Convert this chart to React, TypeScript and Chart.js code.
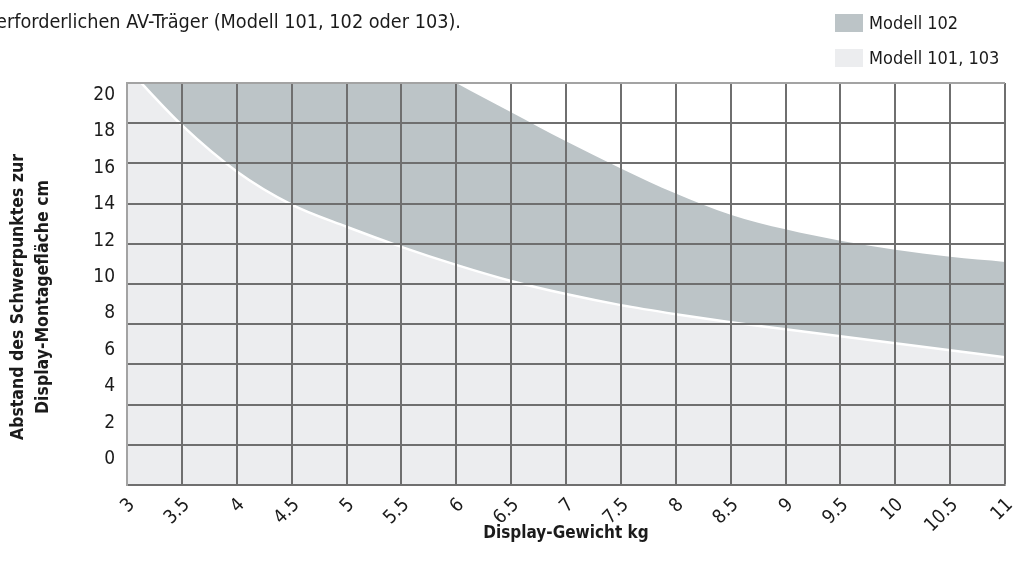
import React, { useEffect, useRef } from "react";
import { Chart, registerables } from "chart.js";

Chart.register(...registerables);

// ---- data ----
const weightsKg = [3, 3.13, 3.5, 4, 4.5, 5, 5.5, 6, 6.5, 7, 7.5, 8, 8.5, 9, 9.5, 10, 10.5, 11];
const modell101_103 = [20.8, 20, 17.9, 15.6, 13.95, 12.85, 11.85, 10.95, 10.15, 9.5, 8.95, 8.5, 8.1, 7.75, 7.4, 7.05, 6.7, 6.35];
const modell102 = [31, 30.5, 29, 27, 25, 23.4, 21.6, 20, 18.55, 17.1, 15.75, 14.5, 13.45, 12.72, 12.15, 11.7, 11.35, 11.1];
const xTickValues = [3, 3.5, 4, 4.5, 5, 5.5, 6, 6.5, 7, 7.5, 8, 8.5, 9, 9.5, 10, 10.5, 11];
const xTickLabels = ["3", "3.5", "4", "4.5", "5", "5.5", "6", "6.5", "7", "7.5", "8", "8.5", "9", "9.5", "10", "10.5", "11"];
const yTickValues = [0, 2, 4, 6, 8, 10, 12, 14, 16, 18, 20];
const yTickLabels = ["0", "2", "4", "6", "8", "10", "12", "14", "16", "18", "20"];
const seriesLabels = ["Modell 101, 103", "Modell 102"];
const captionText = "erforderlichen AV-Träger (Modell 101, 102 oder 103).";
const xTitle = "Display-Gewicht kg";
const yTitle = ["Abstand des Schwerpunktes zur", "Display-Montagefläche cm"];

const FONT = "'Liberation Sans Narrow', 'DejaVu Sans Condensed', 'Roboto', sans-serif";
const TEXT = "#1b1b1b";
const GRID = "#6f6f6f";
const EDGE = "#a3a3a3";
const LIGHT = "#ecedef";
const GRAY = "#bcc4c7";

const extrasPlugin = {
  id: "extras",
  afterDraw(chart: any) {
    const ctx = chart.ctx;
    ctx.save();
    ctx.fillStyle = TEXT;
    ctx.font = `19.7px ${FONT}`;
    ctx.textAlign = "left";
    ctx.textBaseline = "alphabetic";
    ctx.fillText(captionText, -4, 28);
    // legend (Modell 102 first, then Modell 101, 103)
    const items = [
      { label: seriesLabels[1], color: GRAY },
      { label: seriesLabels[0], color: LIGHT },
    ];
    ctx.font = `18px ${FONT}`;
    items.forEach((it, i) => {
      const y = 14 + i * 35;
      ctx.fillStyle = it.color;
      ctx.fillRect(835, y, 28, 18);
      ctx.fillStyle = TEXT;
      ctx.textBaseline = "middle";
      ctx.fillText(it.label, 869, y + 10);
    });
    // y axis title (two lines, rotated)
    ctx.save();
    ctx.translate(31, 297);
    ctx.rotate(-Math.PI / 2);
    ctx.textAlign = "center";
    ctx.textBaseline = "middle";
    ctx.font = `bold 17.5px ${FONT}`;
    ctx.fillText(yTitle[0], 0, -12.5);
    ctx.fillText(yTitle[1], 0, 12.5);
    ctx.restore();
    ctx.restore();
  },
};

export default function App() {
  const ref = useRef<HTMLCanvasElement | null>(null);
  useEffect(() => {
    if (!ref.current) return;
    const chart = new Chart(ref.current, {
      type: "line",
      data: {
        labels: weightsKg,
        datasets: [
          {
            label: seriesLabels[0],
            data: weightsKg.map((x, i) => ({ x, y: modell101_103[i] })),
            backgroundColor: LIGHT,
            borderColor: "#ffffff",
            borderWidth: 2.5,
            pointRadius: 0,
            fill: "start",
            cubicInterpolationMode: "monotone",
          },
          {
            label: seriesLabels[1],
            data: weightsKg.map((x, i) => ({ x, y: modell102[i] })),
            backgroundColor: GRAY,
            borderWidth: 0,
            pointRadius: 0,
            fill: "-1",
            cubicInterpolationMode: "monotone",
          },
        ],
      },
      options: {
        animation: false,
        responsive: true,
        maintainAspectRatio: false,
        layout: { padding: { top: 83, right: 11, left: 0, bottom: 0 } },
        plugins: {
          legend: { display: false },
          tooltip: { enabled: false },
          title: { display: false },
        },
        scales: {
          x: {
            type: "linear",
            min: 3,
            max: 11,
            afterBuildTicks: (s: any) => {
              s.ticks = xTickValues.map((v) => ({ value: v }));
            },
            afterFit: (s: any) => {
              s.height = 83;
              s.paddingLeft = 0;
              s.paddingRight = 0;
            },
            grid: {
              color: (c: any) => (c.tick && c.tick.value === 3 ? EDGE : GRID),
              lineWidth: 2,
              drawTicks: false,
              z: 1,
            },
            border: { display: true, color: EDGE, width: 2, z: 1 },
            ticks: {
              autoSkip: false,
              minRotation: 45,
              maxRotation: 45,
              padding: 9,
              labelOffset: 5,
              color: TEXT,
              font: { family: FONT, size: 19 },
              callback: (v: any) => {
                const i = xTickValues.indexOf(Number(v));
                return i >= 0 ? xTickLabels[i] : "";
              },
            },
            title: {
              display: true,
              text: xTitle,
              color: TEXT,
              font: { family: FONT, size: 17, weight: "bold" },
              padding: { top: 0, bottom: 24 },
            },
          },
          y: {
            type: "linear",
            min: 0,
            max: 20,
            weight: 0,
            afterBuildTicks: (s: any) => {
              s.ticks = yTickValues.map((v) => ({ value: v }));
            },
            afterFit: (s: any) => {
              s.width = 0;
            },
            grid: {
              color: (c: any) => (c.tick && c.tick.value === 20 ? EDGE : GRID),
              lineWidth: 2,
              drawTicks: false,
              z: 1,
            },
            border: { display: true, color: EDGE, width: 2, z: 1 },
            ticks: { display: false },
          },
          yLabels: {
            type: "linear",
            position: "left",
            min: -1.43,
            max: 20.66,
            weight: 10,
            afterBuildTicks: (s: any) => {
              s.ticks = yTickValues.map((v) => ({ value: v }));
            },
            afterFit: (s: any) => {
              s.width = 127;
            },
            grid: { display: false, drawTicks: false },
            border: { display: false },
            ticks: {
              padding: 12,
              color: TEXT,
              font: { family: FONT, size: 19 },
              callback: (v: any) => {
                const i = yTickValues.indexOf(Number(v));
                return i >= 0 ? yTickLabels[i] : "";
              },
            },
            title: { display: false },
          },
        },
      },
      plugins: [extrasPlugin],
    } as any);
    return () => chart.destroy();
  }, []);
  return (
    <div style={{ position: "fixed", left: 0, top: 0, width: 1016, height: 568, background: "#ffffff" }}>
      <canvas ref={ref} />
    </div>
  );
}
